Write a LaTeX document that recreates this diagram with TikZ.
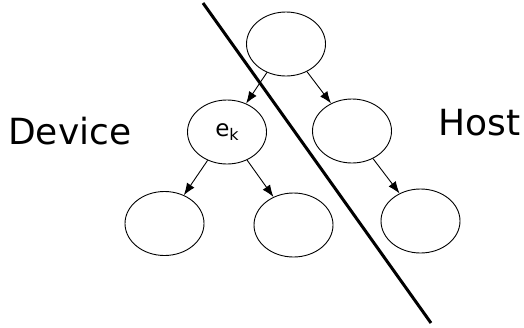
\documentclass[tikz,border=0pt]{standalone}
\usepackage{fontspec}
\setmainfont{DejaVu Sans}
\usetikzlibrary{arrows.meta,shapes.geometric}
\tikzset{
  treenode/.style={draw, ellipse, line width=0.9pt, minimum width=79pt, minimum height=64pt, inner sep=0pt},
  edge/.style={line width=0.9pt, -{Latex[length=12pt,width=9pt]}},
  side/.style={font=\fontsize{36}{40}\selectfont, anchor=base west, inner sep=0pt},
}
\begin{document}
\begin{tikzpicture}[x=1pt, y=-1pt]
  \useasboundingbox (0,0) rectangle (524,327);
  % tree
  \node[treenode] (root) at (286,44) {};
  \node[treenode, font=\fontsize{23}{26}\selectfont] (ek) at (227,132)
    {e\raisebox{-0.35ex}{\fontsize{16}{16}\selectfont k}};
  \node[treenode] (r1) at (352,131) {};
  \node[treenode] (l1) at (164.5,223.5) {};
  \node[treenode] (l2) at (293.5,225) {};
  \node[treenode] (r2) at (420.5,221) {};
  \draw[edge] (root) -- (ek);
  \draw[edge] (root) -- (r1);
  \draw[edge] (ek) -- (l1);
  \draw[edge] (ek) -- (l2);
  \draw[edge] (r1) -- (r2);
  % partition line
  \coordinate (cutA) at (203,3);
  \coordinate (cutB) at (431,323);
  \draw[line width=3pt] (cutA) -- (cutB);
  % side labels
  \node[side] (dev) at (8,144) {Device};
  \node[side] (host) at (438,135) {Host};
\end{tikzpicture}
\end{document}
